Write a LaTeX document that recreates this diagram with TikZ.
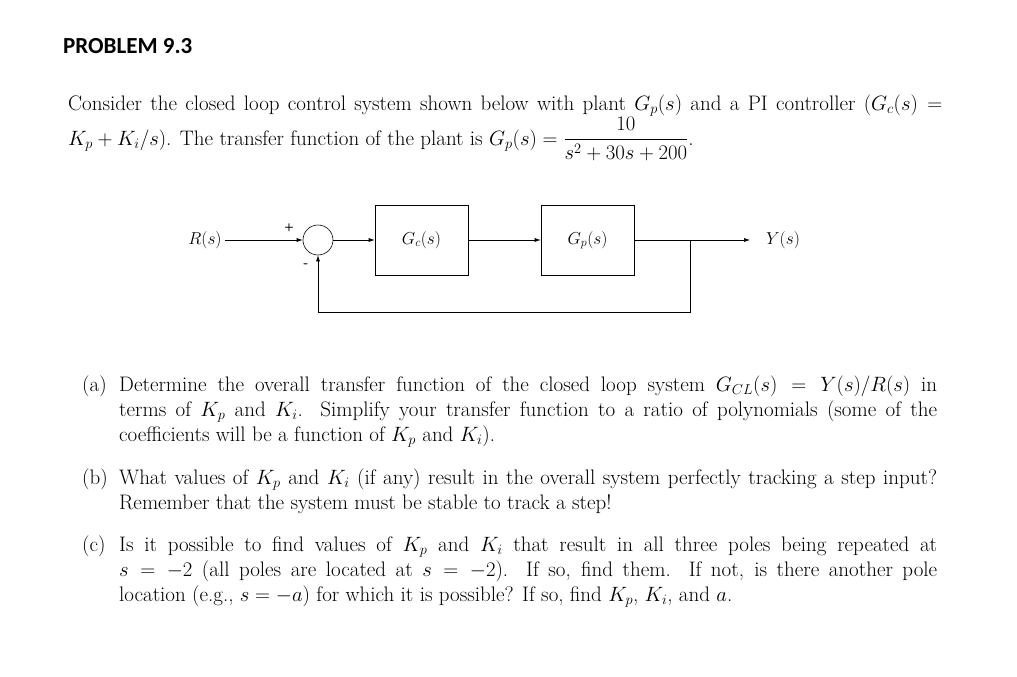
\documentclass[tikz,border=0pt]{standalone}
\usepackage{amsmath}
\usepackage{fontspec}
\newfontfamily\ttl{Carlito}
\usetikzlibrary{arrows.meta}
\newcommand{\jline}[2]{\hbox to #1{#2}}
\begin{document}
\begin{tikzpicture}[x=1pt,y=-1pt,
  blk/.style={draw,minimum width=93pt,minimum height=70pt,line width=0.6pt,font=\fontsize{18}{20}\selectfont},
  lab/.style={font=\fontsize{18}{20}\selectfont},
  ar/.style={-{Latex[length=6pt,width=4pt]},line width=0.6pt},
  tx/.style={anchor=base west,inner sep=0pt,font=\fontsize{21}{24}\selectfont}]
\useasboundingbox[fill=white] (0,0) rectangle (1017,677);
\node[anchor=base west,inner sep=0,font=\ttl\bfseries\fontsize{23}{26}\selectfont] (title) at (63,54) {PROBLEM 9.3};
\node[tx] (p1) at (68,110) {\jline{874pt}{Consider the closed loop control system shown below with plant $G_p(s)$ and a PI controller $(G_c(s) =$}};
\node[tx] (p2) at (68,145) {$K_p + K_i/s)$. The transfer function of the plant is $G_p(s) = \dfrac{10}{s^2+30s+200}$.};
% diagram
\node[lab] (R) at (205,240) {$R(s)$};
\node[draw,circle,minimum size=30pt,inner sep=0,line width=0.6pt] (S) at (318,240) {};
\node[blk] (Gc) at (421.5,240) {$G_c(s)$};
\node[blk] (Gp) at (587.5,240) {$G_p(s)$};
\node[lab] (Y) at (783,240) {$Y(s)$};
\coordinate (br) at (690,240);
\coordinate (d1) at (690,312);
\coordinate (d2) at (318,312);
\coordinate (yend) at (750,240);
\node[font=\sffamily\bfseries\fontsize{11}{11}\selectfont] (plus) at (289,228) {+};
\node[font=\sffamily\bfseries\fontsize{14}{14}\selectfont] (minus) at (306,266) {-};
\draw[ar] (R) -- (S);
\draw[ar] (S) -- (Gc);
\draw[ar] (Gc) -- (Gp);
\draw[ar] (Gp) -- (yend);
\draw[ar] (br) -- (d1) -- (d2) -- (S);
% questions
\node[tx] (a) at (82,391) {(a)};
\node[tx] (a1) at (119,391) {\jline{818pt}{Determine the overall transfer function of the closed loop system $G_{CL}(s) = Y(s)/R(s)$ in}};
\node[tx] (a2) at (119,416) {\jline{818pt}{terms of $K_p$ and $K_i$. Simplify your transfer function to a ratio of polynomials (some of the}};
\node[tx] (a3) at (119,441) {coefficients will be a function of $K_p$ and $K_i$).};
\node[tx] (b) at (82,484) {(b)};
\node[tx] (b1) at (119,484) {\jline{818pt}{What values of $K_p$ and $K_i$ (if any) result in the overall system perfectly tracking a step input?}};
\node[tx] (b2) at (119,509) {Remember that the system must be stable to track a step!};
\node[tx] (c) at (82,551) {(c)};
\node[tx] (c1) at (119,551) {\jline{818pt}{Is it possible to find values of $K_p$ and $K_i$ that result in all three poles being repeated at}};
\node[tx] (c2) at (119,576) {\jline{818pt}{$s=-2$ (all poles are located at $s=-2$). If so, find them. If not, is there another pole}};
\node[tx] (c3) at (119,601) {location (e.g., $s=-a$) for which it is possible? If so, find $K_p$, $K_i$, and $a$.};
\end{tikzpicture}
\end{document}
